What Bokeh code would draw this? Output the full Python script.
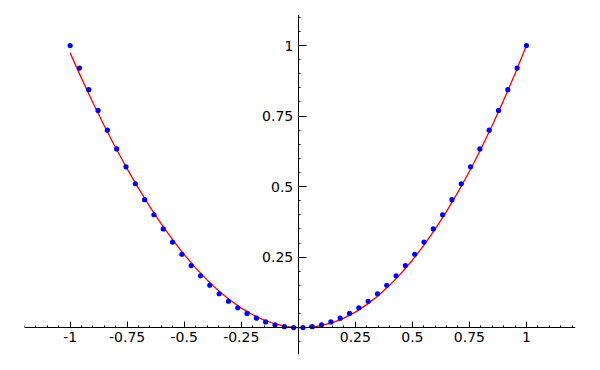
from bokeh.plotting import figure
from bokeh.models import Range1d, FixedTicker, CustomJSTickFormatter
from bokeh.embed import file_html
from bokeh.resources import INLINE

# Sample points (blue dots)
pts_x = [-1.0000, -0.9592, -0.9184, -0.8776, -0.8367, -0.7959, -0.7551, -0.7143, -0.6735, -0.6327,
         -0.5918, -0.5510, -0.5102, -0.4694, -0.4286, -0.3878, -0.3469, -0.3061, -0.2653, -0.2245,
         -0.1837, -0.1429, -0.1020, -0.0612, -0.0204,
         0.0204, 0.0612, 0.1020, 0.1429, 0.1837, 0.2245, 0.2653, 0.3061, 0.3469, 0.3878,
         0.4286, 0.4694, 0.5102, 0.5510, 0.5918, 0.6327, 0.6735, 0.7143, 0.7551, 0.7959,
         0.8367, 0.8776, 0.9184, 0.9592, 1.0000]
pts_y = [1.0000, 0.9201, 0.8435, 0.7702, 0.7001, 0.6335, 0.5702, 0.5102, 0.4536, 0.4003,
         0.3502, 0.3036, 0.2603, 0.2203, 0.1837, 0.1504, 0.1203, 0.0937, 0.0704, 0.0504,
         0.0337, 0.0204, 0.0104, 0.0037, 0.0004,
         0.0004, 0.0037, 0.0104, 0.0204, 0.0337, 0.0504, 0.0704, 0.0937, 0.1203, 0.1504,
         0.1837, 0.2203, 0.2603, 0.3036, 0.3502, 0.4003, 0.4536, 0.5102, 0.5702, 0.6335,
         0.7001, 0.7702, 0.8435, 0.9201, 1.0000]

# Fitted curve (red line)
fit_x = [-1.00, -0.95, -0.90, -0.85, -0.80, -0.75, -0.70, -0.65, -0.60, -0.55, -0.50,
         -0.45, -0.40, -0.35, -0.30, -0.25, -0.20, -0.15, -0.10, -0.05, 0.00,
         0.05, 0.10, 0.15, 0.20, 0.25, 0.30, 0.35, 0.40, 0.45, 0.50,
         0.55, 0.60, 0.65, 0.70, 0.75, 0.80, 0.85, 0.90, 0.95, 1.00]
fit_y = [0.9740, 0.8836, 0.7973, 0.7150, 0.6370, 0.5631, 0.4935, 0.4283, 0.3674, 0.3110, 0.2592,
         0.2119, 0.1693, 0.1313, 0.0980, 0.0695, 0.0458, 0.0270, 0.0131, 0.0040, 0.0000,
         0.0010, 0.0069, 0.0180, 0.0341, 0.0553, 0.0818, 0.1133, 0.1501, 0.1921, 0.2392,
         0.2916, 0.3492, 0.4121, 0.4803, 0.5537, 0.6324, 0.7164, 0.8057, 0.9002, 1.0000]

# Ticks
x_major = [-1, -0.75, -0.5, -0.25, 0.25, 0.5, 0.75, 1]
y_major = [0.25, 0.5, 0.75, 1]
x_minor = [round(-1.2 + 0.05 * i, 2) for i in range(49)]
y_minor = [round(-0.1 + 0.05 * i, 2) for i in range(25)]

p = figure(width=592, height=362,
           x_range=Range1d(-1.2, 1.215), y_range=Range1d(-0.095, 1.11),
           output_backend="svg", toolbar_location=None,
           min_border_left=24, min_border_right=17, min_border_top=14, min_border_bottom=8)
p.outline_line_color = None
p.grid.visible = False
p.background_fill_color = "white"
p.border_fill_color = "white"

p.line(fit_x, fit_y, line_color="red", line_width=1.3)
p.scatter(pts_x, pts_y, size=5.2, fill_color="blue", line_color=None)

fmt = CustomJSTickFormatter(code="return tick.toString();")

xa = p.xaxis[0]
xa.fixed_location = 0
xa.ticker = FixedTicker(ticks=x_major, minor_ticks=x_minor)
xa.formatter = fmt
xa.major_tick_in = 6
xa.major_tick_out = 0
xa.minor_tick_in = 2
xa.minor_tick_out = 0
xa.major_label_standoff = 4

ya = p.yaxis[0]
ya.fixed_location = 0
ya.ticker = FixedTicker(ticks=y_major, minor_ticks=y_minor)
ya.formatter = fmt
ya.major_tick_in = 8
ya.major_tick_out = 0
ya.minor_tick_in = 2
ya.minor_tick_out = 0
ya.major_label_standoff = 5

for ax in (xa, ya):
    ax.axis_line_color = "black"
    ax.axis_line_width = 1
    ax.major_tick_line_color = "black"
    ax.minor_tick_line_color = "black"
    ax.major_label_text_font = "DejaVu Sans"
    ax.major_label_text_font_size = "14px"
    ax.major_label_text_color = "black"

open("out.html", "w").write(file_html(p, INLINE))
